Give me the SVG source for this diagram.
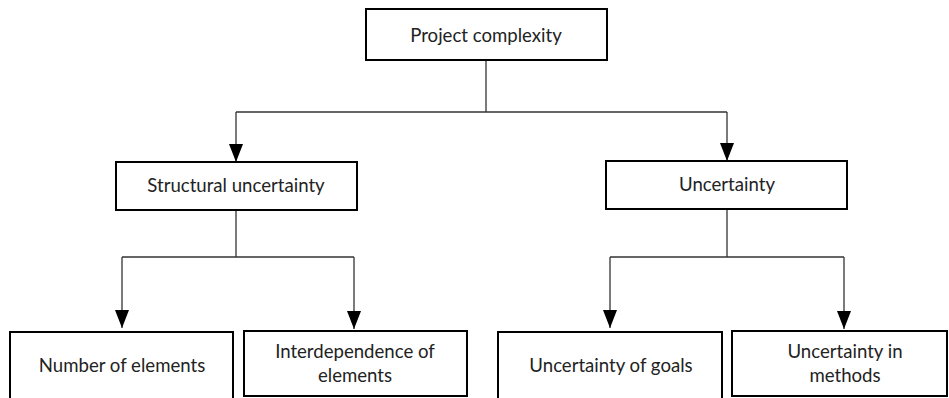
<svg xmlns="http://www.w3.org/2000/svg" width="949" height="398" viewBox="0 0 949 398">
  <style>
    .box { fill: #fff; stroke: #000; stroke-width: 2; }
    .lbl { font-family: Lato, "Open Sans", sans-serif; font-size: 18.6px; fill: #222; text-anchor: middle; }
    .wire { fill: none; stroke: #333; stroke-width: 1.3; }
  </style>
  <defs>
    <!-- filled triangular head, tip sits on the line end -->
    <marker id="arrow" markerUnits="userSpaceOnUse" markerWidth="18" markerHeight="14" refX="18" refY="7" orient="auto" viewBox="0 0 18 14">
      <path d="M0,0 L18,7 L0,14 Z" fill="#000"/>
    </marker>
  </defs>

  <rect width="949" height="398" fill="#fff"/>

  <g id="connectors">
    <path class="wire" d="M486,60 V112"/>
    <path class="wire" d="M236,112 H727"/>
    <path class="wire" d="M236,112 V162" marker-end="url(#arrow)"/>
    <path class="wire" d="M727,112 V161" marker-end="url(#arrow)"/>
    <path class="wire" d="M236,210 V257"/>
    <path class="wire" d="M122,257 H354"/>
    <path class="wire" d="M727,209 V257"/>
    <path class="wire" d="M610,257 H844"/>
    <path class="wire" d="M122,257 V328" marker-end="url(#arrow)"/>
    <path class="wire" d="M354,257 V329" marker-end="url(#arrow)"/>
    <path class="wire" d="M610,257 V328" marker-end="url(#arrow)"/>
    <path class="wire" d="M844,257 V329" marker-end="url(#arrow)"/>
  </g>

  <g id="project-complexity">
    <rect class="box" x="366" y="9" width="241" height="51"/>
    <text class="lbl" x="486" y="42">Project complexity</text>
  </g>

  <g id="structural-uncertainty">
    <rect class="box" x="116" y="162" width="241" height="48"/>
    <text class="lbl" x="236" y="192">Structural uncertainty</text>
  </g>

  <g id="uncertainty">
    <rect class="box" x="606" y="161" width="241" height="48"/>
    <text class="lbl" x="727" y="191">Uncertainty</text>
  </g>

  <g id="number-of-elements">
    <rect class="box" x="10" y="332" width="223" height="80"/>
    <text class="lbl" x="122" y="372">Number of elements</text>
  </g>

  <g id="interdependence-of-elements">
    <rect class="box" x="244" y="331" width="223" height="65"/>
    <text class="lbl" x="355" y="358">Interdependence of</text>
    <text class="lbl" x="355" y="382">elements</text>
  </g>

  <g id="uncertainty-of-goals">
    <rect class="box" x="498" y="332" width="224" height="80"/>
    <text class="lbl" x="611" y="372">Uncertainty of goals</text>
  </g>

  <g id="uncertainty-in-methods">
    <rect class="box" x="732" y="331" width="215" height="65"/>
    <text class="lbl" x="845" y="358">Uncertainty in</text>
    <text class="lbl" x="845" y="382">methods</text>
  </g>
</svg>
